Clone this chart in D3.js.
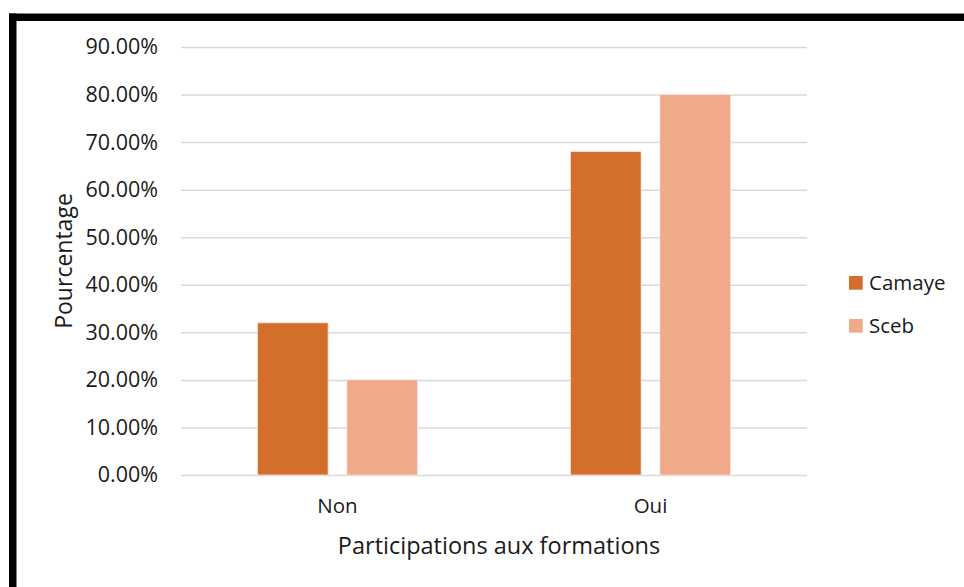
<!DOCTYPE html>
<html>
<head>
<meta charset="utf-8">
<script src="https://cdn.jsdelivr.net/npm/d3@7"></script>
<style>
  html, body { margin: 0; padding: 0; background: #fff; }
  svg { display: block; }
  text { font-family: "Open Sans", "Noto Sans", sans-serif; fill: #1a1a1a; }
</style>
</head>
<body>
<svg id="chart" width="964" height="587"></svg>
<script>
// Participation aux formations, by site
const categories = ["Non", "Oui"];
const seriesNames = ["Camaye", "Sceb"];
const camaye = [0.32, 0.68];
const sceb = [0.20, 0.80];
const yTicks = [0, 0.1, 0.2, 0.3, 0.4, 0.5, 0.6, 0.7, 0.8, 0.9];
const colors = ["#d36e2b", "#f0a98a"];

const seriesValues = [camaye, sceb];
const rows = categories.map((c, i) => ({
  category: c,
  values: seriesNames.map((s, j) => ({ series: s, value: seriesValues[j][i] }))
}));

const svg = d3.select("#chart");

// Frame border (top and left)
svg.append("rect").attr("x", 9).attr("y", 13.5).attr("width", 955).attr("height", 7.5).attr("fill", "#000");
svg.append("rect").attr("x", 9).attr("y", 13.5).attr("width", 7.5).attr("height", 574).attr("fill", "#000");

const plot = { left: 181, right: 807, top: 47, bottom: 475 };

const x = d3.scaleBand().domain(categories).range([plot.left, plot.right]).paddingInner(0).paddingOuter(0);
const x1 = d3.scaleBand().domain(seriesNames).range([0, x.bandwidth()]).paddingInner(0.21).paddingOuter(0.855);
const y = d3.scaleLinear().domain([0, 0.9]).range([plot.bottom, plot.top]);

// Gridlines and value ticks
const yAxis = d3.axisLeft(y).tickValues(yTicks).tickFormat(d3.format(".2%")).tickSize(-(plot.right - plot.left)).tickPadding(23);
const gy = svg.append("g").attr("transform", `translate(${plot.left},0)`).call(yAxis);
gy.select(".domain").remove();
gy.selectAll(".tick line").attr("stroke", "#d9d9d9").attr("stroke-width", 1.5);
gy.selectAll(".tick text").attr("font-size", 21.5).attr("fill", "#1a1a1a")
  .style("font-family", '"Open Sans", sans-serif');

// Bars
const groups = svg.append("g").selectAll("g").data(rows).join("g")
  .attr("transform", d => `translate(${x(d.category)},0)`);
groups.selectAll("rect").data(d => d.values).join("rect")
  .attr("x", d => x1(d.series))
  .attr("width", x1.bandwidth())
  .attr("y", d => y(d.value))
  .attr("height", d => y(0) - y(d.value))
  .attr("fill", (d, i) => colors[i])
  .attr("stroke", "#fbe3d6").attr("stroke-width", 0.8);

// Category labels
const xAxis = d3.axisBottom(x).tickSize(0).tickPadding(23);
const gx = svg.append("g").attr("transform", `translate(0,${plot.bottom})`).call(xAxis);
gx.select(".domain").remove();
gx.selectAll(".tick text").attr("font-size", 20.5).attr("fill", "#1a1a1a")
  .style("font-family", '"Open Sans", sans-serif');

// Axis titles
svg.append("text").attr("x", 499).attr("y", 554).attr("text-anchor", "middle")
  .attr("font-size", 23.5).text("Participations aux formations");
svg.append("text").attr("transform", `translate(72,261) rotate(-90)`).attr("text-anchor", "middle")
  .attr("font-size", 23).text("Pourcentage");

// Legend
const legend = svg.append("g").selectAll("g").data(seriesNames).join("g")
  .attr("transform", (d, i) => `translate(849,${276 + i * 43})`);
legend.append("rect").attr("width", 13.7).attr("height", 13.7).attr("fill", (d, i) => colors[i]);
legend.append("text").attr("x", 20).attr("y", 14).attr("font-size", 20.5).text(d => d);
</script>
</body>
</html>
